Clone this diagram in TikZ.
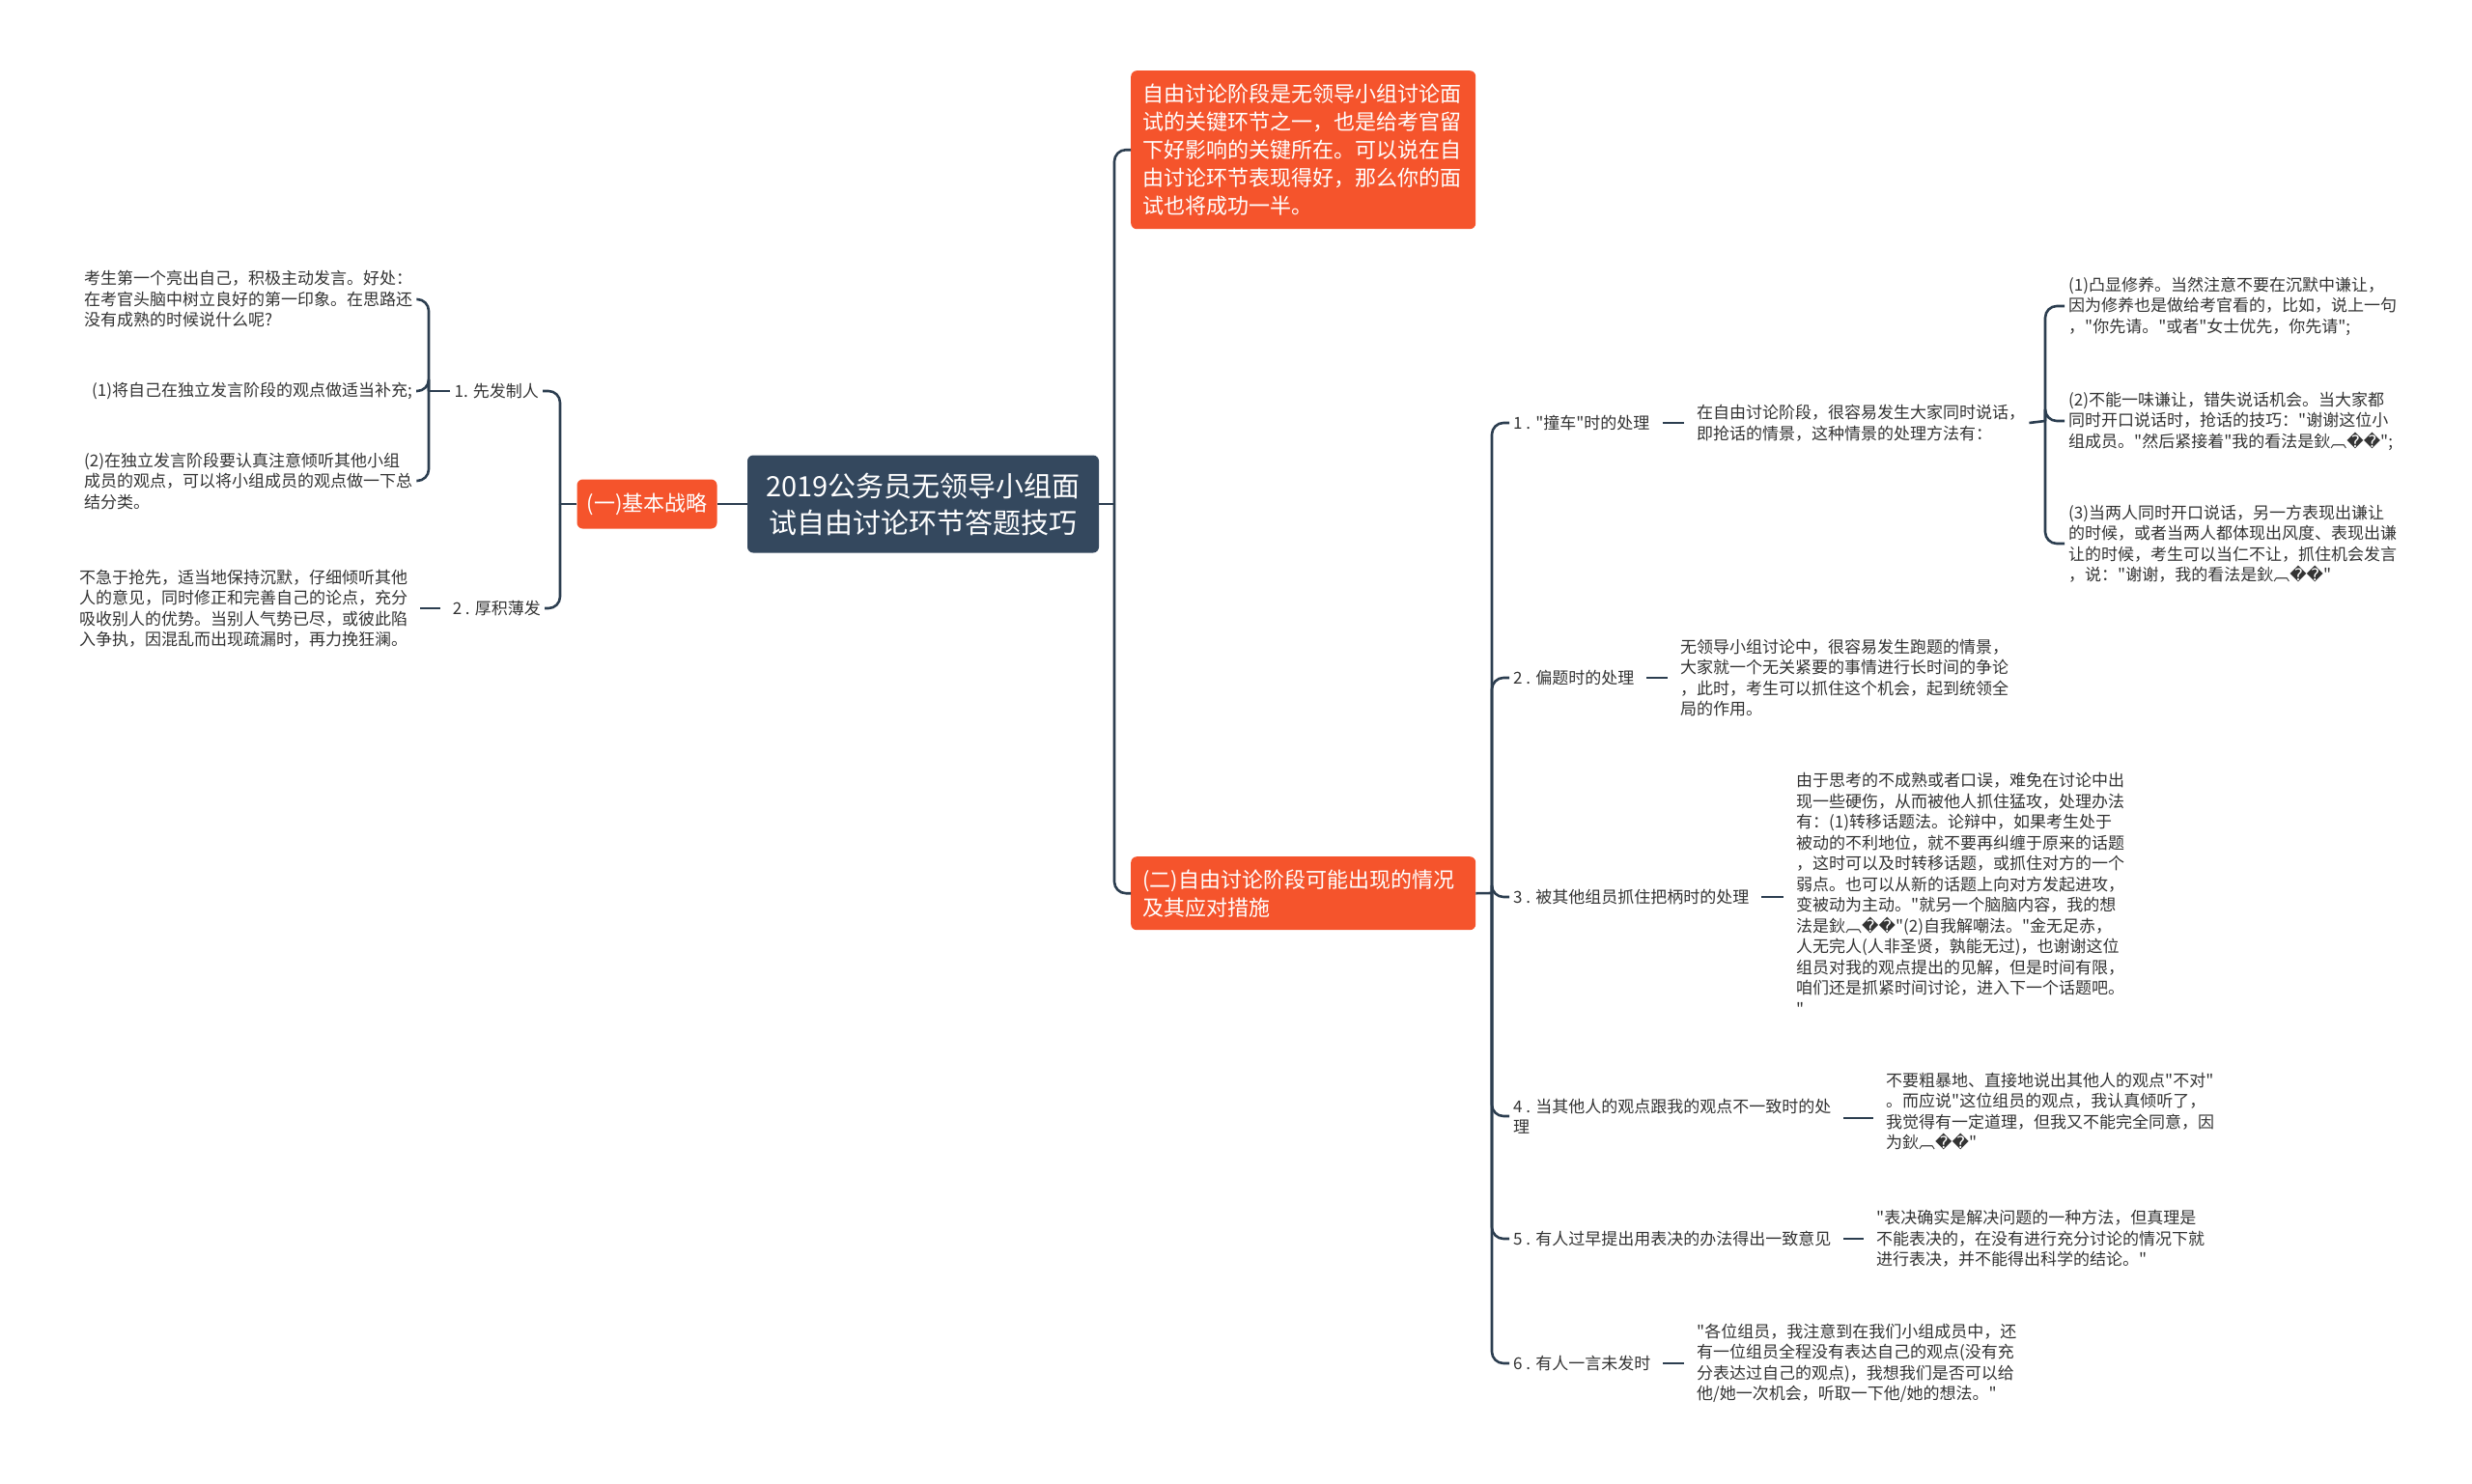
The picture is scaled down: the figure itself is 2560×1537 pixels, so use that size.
\documentclass[tikz,border=0pt]{standalone}
\usepackage{fontspec}
\setmainfont{Noto Sans CJK SC}[Ligatures=TeXOff]
\newfontfamily\dvfont{DejaVu Sans}
\newcommand\garb{鈥︹{\dvfont ^^^^fffd^^^^fffd}}
\definecolor{orc}{RGB}{245,84,44}
\definecolor{rootc}{RGB}{52,72,94}
\definecolor{lc}{RGB}{44,62,80}
\definecolor{txtc}{RGB}{51,51,51}
\tikzset{
  conn/.style={draw=lc, line width=2.6pt, rounded corners=12pt},
  link/.style={draw=lc, line width=2.6pt, shorten <=9pt, shorten >=9pt},
  txt/.style={font=\fontsize{17}{21.5}\selectfont, align=left, inner sep=4pt, text=txtc},
  rootbox/.style={fill=rootc, rounded corners=6pt, text=white, font=\fontsize{29}{38}\selectfont, align=center, minimum width=364pt, minimum height=101pt, inner sep=0pt},
  orbox/.style={fill=orc, rounded corners=6pt, text=white, font=\fontsize{22}{29}\selectfont, align=left, inner sep=0pt},
}
\begin{document}
\begin{tikzpicture}[x=1pt,y=-1pt]
\useasboundingbox (0,0) rectangle (2560,1537);
% central
\node[rootbox] (root) at (956,522) {2019公务员无领导小组面\\试自由讨论环节答题技巧};
\node[orbox, minimum width=145pt, minimum height=51pt, align=center] (one) at (670,522) {(一)基本战略};
\node[orbox, anchor=north west, minimum width=357pt, minimum height=164pt, text width=333pt] (top) at (1171,73) {自由讨论阶段是无领导小组讨论面\\试的关键环节之一，也是给考官留\\下好影响的关键所在。可以说在自\\由讨论环节表现得好，那么你的面\\试也将成功一半。};
\node[orbox, anchor=north west, minimum width=357pt, minimum height=76pt, text width=333pt] (two) at (1171,887) {(二)自由讨论阶段可能出现的情况\\及其应对措施};
% left side
\node[txt, anchor=east] (L1) at (562,405) {1. 先发制人};
\node[txt, anchor=east] (L2) at (564,630) {2 . 厚积薄发};
\node[txt, anchor=west] (a) at (83,310) {考生第一个亮出自己，积极主动发言。好处：\\在考官头脑中树立良好的第一印象。在思路还\\没有成熟的时候说什么呢?};
\node[txt, anchor=west] (b) at (91,405) {(1)将自己在独立发言阶段的观点做适当补充;};
\node[txt, anchor=west] (c) at (83,498) {(2)在独立发言阶段要认真注意倾听其他小组\\成员的观点，可以将小组成员的观点做一下总\\结分类。};
\node[txt, anchor=west] (d) at (78,630) {不急于抢先，适当地保持沉默，仔细倾听其他\\人的意见，同时修正和完善自己的论点，充分\\吸收别人的优势。当别人气势已尽，或彼此陷\\入争执，因混乱而出现疏漏时，再力挽狂澜。};
% right side items
\node[txt, anchor=west] (i1) at (1563,438) {1 . "撞车"时的处理};
\node[txt, anchor=west] (i2) at (1563,702) {2 . 偏题时的处理};
\node[txt, anchor=west] (i3) at (1563,929) {3 . 被其他组员抓住把柄时的处理};
\node[txt, anchor=west] (i4) at (1563,1156) {4 . 当其他人的观点跟我的观点不一致时的处\\理};
\node[txt, anchor=west] (i5) at (1563,1283) {5 . 有人过早提出用表决的办法得出一致意见};
\node[txt, anchor=west] (i6) at (1563,1412) {6 . 有人一言未发时};
\node[txt, anchor=west] (d1) at (1753,438) {在自由讨论阶段，很容易发生大家同时说话，\\即抢话的情景，这种情景的处理方法有：};
\node[txt, anchor=west] (d2) at (1736,702) {无领导小组讨论中，很容易发生跑题的情景，\\大家就一个无关紧要的事情进行长时间的争论\\，此时，考生可以抓住这个机会，起到统领全\\局的作用。};
\node[txt, anchor=west] (d3) at (1856,926) {由于思考的不成熟或者口误，难免在讨论中出\\现一些硬伤，从而被他人抓住猛攻，处理办法\\有：(1)转移话题法。论辩中，如果考生处于\\被动的不利地位，就不要再纠缠于原来的话题\\，这时可以及时转移话题，或抓住对方的一个\\弱点。也可以从新的话题上向对方发起进攻，\\变被动为主动。"就另一个脑脑内容，我的想\\法是\garb"(2)自我解嘲法。"金无足赤，\\人无完人(人非圣贤，孰能无过)，也谢谢这位\\组员对我的观点提出的见解，但是时间有限，\\咱们还是抓紧时间讨论，进入下一个话题吧。\\"};
\node[txt, anchor=west] (d4) at (1949,1151) {不要粗暴地、直接地说出其他人的观点"不对"\\。而应说"这位组员的观点，我认真倾听了，\\我觉得有一定道理，但我又不能完全同意，因\\为\garb"};
\node[txt, anchor=west] (d5) at (1939,1283) {"表决确实是解决问题的一种方法，但真理是\\不能表决的，在没有进行充分讨论的情况下就\\进行表决，并不能得出科学的结论。"};
\node[txt, anchor=west] (d6) at (1753,1412) {"各位组员，我注意到在我们小组成员中，还\\有一位组员全程没有表达自己的观点(没有充\\分表达过自己的观点)，我想我们是否可以给\\他/她一次机会，听取一下他/她的想法。"};
\node[txt, anchor=west] (s1) at (2138,317) {(1)凸显修养。当然注意不要在沉默中谦让，\\因为修养也是做给考官看的，比如，说上一句\\，"你先请。"或者"女士优先，你先请";};
\node[txt, anchor=west] (s2) at (2138,436) {(2)不能一味谦让，错失说话机会。当大家都\\同时开口说话时，抢话的技巧："谢谢这位小\\组成员。"然后紧接着"我的看法是\garb";};
\node[txt, anchor=west] (s3) at (2138,563) {(3)当两人同时开口说话，另一方表现出谦让\\的时候，或者当两人都体现出风度、表现出谦\\让的时候，考生可以当仁不让，抓住机会发言\\，说："谢谢，我的看法是\garb"};
% coordinates for brackets
\coordinate (bA) at (580,522);
\coordinate (bB) at (444,405);
\coordinate (bR1) at (1154,522);
\coordinate (bR2) at (1545,925);
\coordinate (bR3) at (2118,436);
% connectors
\draw[conn] (root.west) -- (one.east);
\draw[conn] (one.west) -- (bA);
\draw[conn] (bA) |- (L1.east);
\draw[conn] (bA) |- (L2.east);
\draw[conn] (L1.west) -- (bB);
\draw[conn] (bB) |- (a.east);
\draw[conn] (bB) |- (b.east);
\draw[conn] (bB) |- (c.east);
\draw[link] (L2.west) -- (L2.west -| d.east);
\draw[conn] (root.east) -- (bR1);
\draw[conn] (bR1) |- (top.west);
\draw[conn] (bR1) |- (two.west);
\draw[conn] (two.east) -- (bR2);
\foreach \n in {i1,i2,i3,i4,i5,i6} \draw[conn] (bR2) |- (\n.west);
\draw[link] (i1.east) -- (i1.east -| d1.west);
\draw[link] (i2.east) -- (i2.east -| d2.west);
\draw[link] (i3.east) -- (i3.east -| d3.west);
\draw[link] ([yshift=-2pt]i4.east) -- ([yshift=-2pt]i4.east -| d4.west);
\draw[link] (i5.east) -- (i5.east -| d5.west);
\draw[link] (i6.east) -- (i6.east -| d6.west);
\draw[conn] (d1.east) -- (bR3);
\foreach \n in {s1,s2,s3} \draw[conn] (bR3) |- (\n.west);
\end{tikzpicture}
\end{document}
